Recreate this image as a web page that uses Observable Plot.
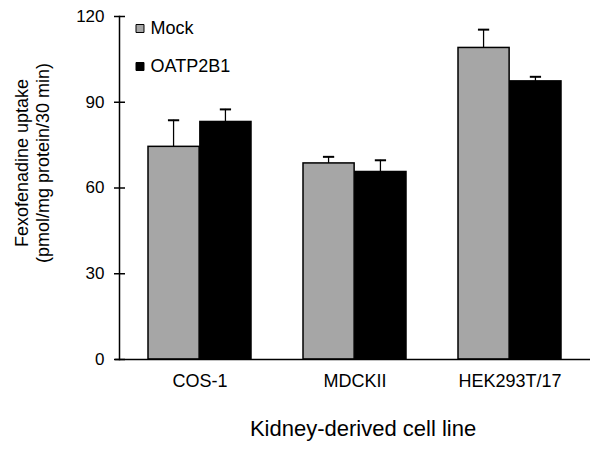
<!DOCTYPE html>
<html>
<head>
<meta charset="utf-8">
<script src="https://cdn.jsdelivr.net/npm/d3@7"></script>
<script src="https://cdn.jsdelivr.net/npm/@observablehq/plot@0.6"></script>
<style>
  html, body { margin: 0; padding: 0; background: #fff; }
</style>
</head>
<body>
<div id="chart"></div>
<script>
// ---- data ----
const categories = ["COS-1", "MDCKII", "HEK293T/17"];
const seriesNames = ["Mock", "OATP2B1"];
const mockValues = [74.4, 68.6, 109.0];
const mockErrors = [9.3, 2.3, 6.4];
const oatpValues = [83.1, 65.6, 97.3];
const oatpErrors = [4.4, 4.1, 1.6];
const yTicks = [0, 30, 60, 90, 120];
const seriesColors = ["#a6a6a6", "#000000"];
const xTitle = "Kidney-derived cell line";
const yTitle = "Fexofenadine uptake\n(pmol/mg protein/30 min)";

// ---- rows ----
const rows = [];
categories.forEach((c, i) => {
  rows.push({cat: c, series: seriesNames[0], value: mockValues[i], err: mockErrors[i]});
  rows.push({cat: c, series: seriesNames[1], value: oatpValues[i], err: oatpErrors[i]});
});
const mockRows = rows.filter(d => d.series === seriesNames[0]);
const oatpRows = rows.filter(d => d.series === seriesNames[1]);

// ---- layout ----
const W = 601, H = 452;
const mL = 119, mR = 11, mT = 16, mB = 93;
const pIn = 1 / 3, pOut = 0.18;
const frameW = W - mL - mR;
const step = frameW / (categories.length - pIn + 2 * pOut);
const bw = step * (1 - pIn);
const half = bw / 2;
const capW = 12, errW = 2;
const font = "'Liberation Sans', Arial, sans-serif";

// error-bar insets (relative to the category band)
const errInsetMock = {insetLeft: bw / 4 - errW / 2, insetRight: bw - bw / 4 - errW / 2};
const errInsetOatp = {insetLeft: 3 * bw / 4 - errW / 2, insetRight: bw / 4 - errW / 2};
const capInsetMock = {insetLeft: bw / 4 - capW / 2, insetRight: bw - bw / 4 - capW / 2};
const capInsetOatp = {insetLeft: 3 * bw / 4 - capW / 2, insetRight: bw / 4 - capW / 2};

const chart = Plot.plot({
  width: W,
  height: H,
  marginLeft: mL,
  marginRight: mR,
  marginTop: mT,
  marginBottom: mB,
  style: {fontFamily: font, color: "#000", background: "#fff", overflow: "visible"},
  x: {domain: categories, paddingInner: pIn, paddingOuter: pOut, axis: null},
  y: {domain: [0, 120], axis: null},
  color: {domain: seriesNames, range: seriesColors},
  marks: [
    // error bars (drawn first so the bar outline covers their base)
    Plot.barY(mockRows, {x: "cat", y1: "value", y2: d => d.value + d.err, fill: "#000", ...errInsetMock}),
    Plot.barY(oatpRows, {x: "cat", y1: "value", y2: d => d.value + d.err, fill: "#000", ...errInsetOatp}),
    Plot.tickY(mockRows, {x: "cat", y: d => d.value + d.err, stroke: "#000", strokeWidth: 2, ...capInsetMock}),
    Plot.tickY(oatpRows, {x: "cat", y: d => d.value + d.err, stroke: "#000", strokeWidth: 2, ...capInsetOatp}),
    // bars
    Plot.barY(mockRows, {x: "cat", y: "value", fill: "series", stroke: "#000", strokeWidth: 1.5, insetRight: half}),
    Plot.barY(oatpRows, {x: "cat", y: "value", fill: "series", stroke: "#000", strokeWidth: 1.5, insetLeft: half}),
    // axes lines
    Plot.frame({anchor: "left", stroke: "#000", strokeWidth: 1.5}),
    Plot.ruleY([0], {stroke: "#000", strokeWidth: 1.5, insetLeft: -4}),
    Plot.tickY(yTicks, {y: d => d, stroke: "#000", strokeWidth: 1.5, insetLeft: -5, insetRight: frameW - 6}),
    Plot.axisY(yTicks, {tickSize: 0, tickPadding: 15, label: null, fontSize: 17, tickFormat: d => String(d)}),
    Plot.axisX({tickSize: 0, tickPadding: 15, label: null, fontSize: 18}),
    // axis titles
    Plot.text([xTitle], {text: d => d, frameAnchor: "bottom", lineAnchor: "middle", textAnchor: "middle", dy: 69, dx: 8, fontSize: 22, fill: "#000"}),
    Plot.text([yTitle], {text: d => d, frameAnchor: "left", textAnchor: "middle", lineAnchor: "middle", rotate: -90, dx: -88, dy: -25, fontSize: 18, lineHeight: 1.2, fill: "#000"}),
    // legend
    ...seriesNames.map((s, i) => Plot.dot([s], {frameAnchor: "top-left", symbol: "square", r: 4.5, fill: seriesColors[i], stroke: "#000", strokeWidth: 1, dx: 20.5, dy: 12 + 38 * i})),
    ...seriesNames.map((s, i) => Plot.text([s], {text: d => d, frameAnchor: "top-left", textAnchor: "start", lineAnchor: "middle", fontSize: 18, fill: "#000", dx: 31, dy: 12 + 38 * i}))
  ]
});
document.getElementById("chart").appendChild(chart);
</script>
</body>
</html>
